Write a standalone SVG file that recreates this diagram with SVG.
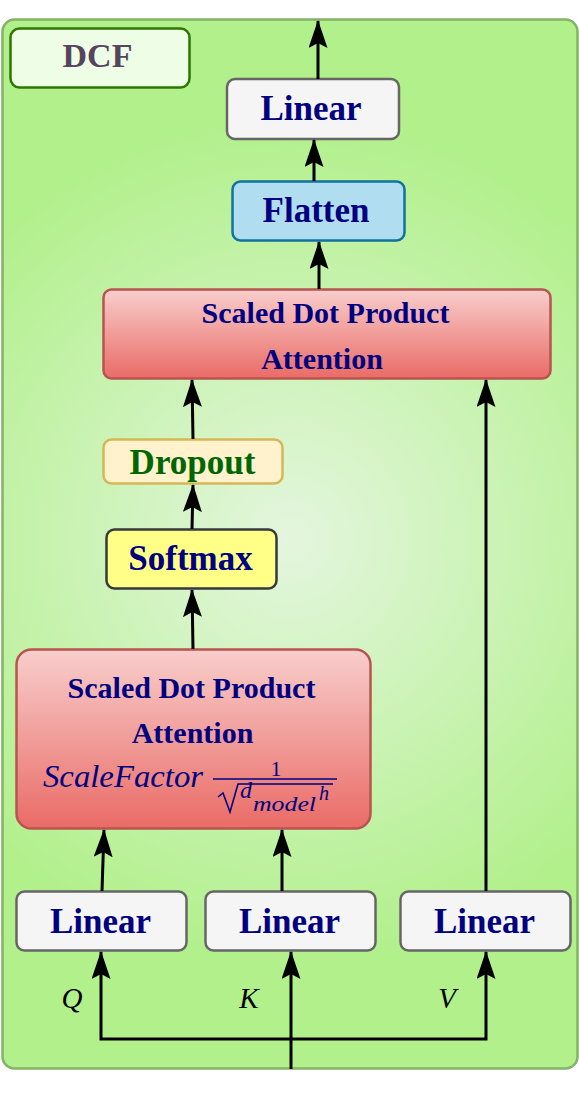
<svg xmlns="http://www.w3.org/2000/svg" width="579" height="1098" viewBox="0 0 579 1098">
<defs>
<radialGradient id="bg" cx="290" cy="540" r="420" gradientUnits="userSpaceOnUse">
<stop offset="0" stop-color="#e4f6de"/>
<stop offset="1" stop-color="#b2f08c"/>
</radialGradient>
<linearGradient id="red" x1="0" y1="0" x2="0" y2="1">
<stop offset="0" stop-color="#f8cecc"/>
<stop offset="1" stop-color="#ea6b66"/>
</linearGradient>
<marker id="ah" viewBox="0 0 28 19" refX="27" refY="9.5" markerWidth="28" markerHeight="19" markerUnits="userSpaceOnUse" orient="auto">
<path d="M0,0 L28,9.5 L0,19 L5,9.5 Z" fill="#000"/>
</marker>
</defs>
<style>
.t{font-family:"Liberation Serif",serif;font-weight:bold;fill:#000080;text-anchor:middle}
.lin{fill:#f5f5f5;stroke:#666666;stroke-width:2.5}
.c{fill:none;stroke:#000;stroke-width:3}
.m{font-family:"Liberation Serif",serif;font-style:italic;fill:#000080}
.v{font-family:"Liberation Serif",serif;font-style:italic;fill:#000;font-size:29px;text-anchor:middle}
</style>
<g id="container">
<rect x="2.5" y="19.5" width="575" height="1049" rx="12" fill="url(#bg)" stroke="#82b366" stroke-width="2.5"/>
</g>
<g id="dcf">
<rect x="10.5" y="28.5" width="179" height="59" rx="9" fill="#eefde6" stroke="#2d7600" stroke-width="2.5"/>
<text x="97.5" y="67" class="t" style="fill:#56445e;font-size:34px">DCF</text>
</g>
<g id="linear_top">
<rect x="227" y="79" width="172" height="60" rx="8" class="lin"/>
<text x="311" y="120" class="t" font-size="35">Linear</text>
</g>
<g id="flatten">
<rect x="232.5" y="181.5" width="172" height="59" rx="8" fill="#b1ddf0" stroke="#10739e" stroke-width="2.5"/>
<text x="316" y="222" class="t" font-size="35">Flatten</text>
</g>
<g id="sdpa_top">
<rect x="103.5" y="289.5" width="447" height="89" rx="8" fill="url(#red)" stroke="#b85450" stroke-width="2.5"/>
<text x="325.5" y="323" class="t" font-size="30">Scaled Dot Product</text>
<text x="322" y="369" class="t" font-size="30">Attention</text>
</g>
<g id="dropout">
<rect x="103.5" y="439.5" width="179" height="44" rx="8" fill="#fff2cc" stroke="#d6b656" stroke-width="2.5"/>
<text x="192.5" y="474" class="t" style="fill:#006600" font-size="35">Dropout</text>
</g>
<g id="softmax">
<rect x="106.5" y="529.5" width="170" height="59" rx="8" fill="#ffff88" stroke="#36393d" stroke-width="2.5"/>
<text x="190.5" y="570" class="t" font-size="35">Softmax</text>
</g>
<g id="sdpa_bottom">
<rect x="16.5" y="649.5" width="354" height="179" rx="15" fill="url(#red)" stroke="#b85450" stroke-width="2.5"/>
<text x="191.5" y="698" class="t" font-size="30">Scaled Dot Product</text>
<text x="192.5" y="743" class="t" font-size="30">Attention</text>
<text x="43" y="787" class="m" font-size="31" textLength="160" lengthAdjust="spacingAndGlyphs">ScaleFactor</text>
<text x="276" y="776" class="m" font-size="22" style="font-style:normal" text-anchor="middle">1</text>
<line x1="213" y1="779" x2="337" y2="779" stroke="#000080" stroke-width="1.5"/>
<path d="M218,797 L223,793 L230,812 L238,784 L333,784" fill="none" stroke="#000080" stroke-width="1.6"/>
<text x="240" y="798" class="m" font-size="24">d</text>
<text x="253" y="811" class="m" font-size="20" textLength="63" lengthAdjust="spacingAndGlyphs">model</text>
<text x="319" y="800" class="m" font-size="20">h</text>
</g>
<g id="linear_q">
<rect x="16.5" y="891.5" width="170" height="59" rx="8" class="lin"/>
<text x="100.5" y="933" class="t" font-size="35">Linear</text>
</g>
<g id="linear_k">
<rect x="205.5" y="891.5" width="170" height="59" rx="8" class="lin"/>
<text x="289.5" y="933" class="t" font-size="35">Linear</text>
</g>
<g id="linear_v">
<rect x="400.5" y="891.5" width="170" height="59" rx="8" class="lin"/>
<text x="484.5" y="933" class="t" font-size="35">Linear</text>
</g>
<g id="labels">
<text x="72" y="1008" class="v">Q</text>
<text x="249" y="1008" class="v">K</text>
<text x="447" y="1008" class="v">V</text>
</g>
<g id="connectors">
<line x1="318" y1="79" x2="318" y2="21" class="c" marker-end="url(#ah)"/>
<line x1="314" y1="181" x2="314" y2="140" class="c" marker-end="url(#ah)"/>
<line x1="319" y1="289" x2="319" y2="242" class="c" marker-end="url(#ah)"/>
<line x1="193" y1="439" x2="192" y2="380" class="c" marker-end="url(#ah)"/>
<line x1="192" y1="529" x2="193" y2="485" class="c" marker-end="url(#ah)"/>
<line x1="193" y1="649" x2="192" y2="590" class="c" marker-end="url(#ah)"/>
<line x1="102" y1="891" x2="104" y2="830" class="c" marker-end="url(#ah)"/>
<line x1="282" y1="891" x2="282" y2="830" class="c" marker-end="url(#ah)"/>
<line x1="486" y1="891" x2="486" y2="380" class="c" marker-end="url(#ah)"/>
<line x1="291" y1="1069" x2="291" y2="952" class="c" marker-end="url(#ah)"/>
<path d="M291,1039 L101,1039 L101,952" class="c" marker-end="url(#ah)"/>
<path d="M291,1039 L486,1039 L486,952" class="c" marker-end="url(#ah)"/>
</g>
</svg>
